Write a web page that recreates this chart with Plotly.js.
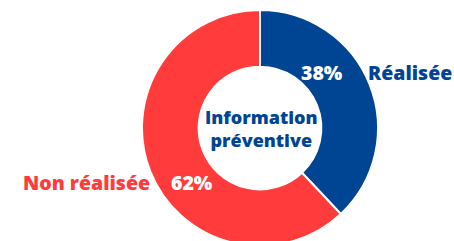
<!DOCTYPE html>
<html>
<head>
<meta charset="utf-8">
<script src="https://cdn.plot.ly/plotly-3.0.1.min.js"></script>
<style>
html,body{margin:0;padding:0;overflow:hidden;background:#fff;}
#chart{width:454px;height:250px;}
</style>
</head>
<body>
<div id="chart"></div>
<script>
const categories = ["Réalisée", "Non réalisée"];
const values = [38, 62];
const colors = ["#004494", "#FF3B3B"];
const centerTitle = "Information<br>préventive";

const W = 454, H = 250;
const cx = 260, cy = 128, R = 118;
const font = "Open Sans, Noto Sans, sans-serif";

const total = values.reduce((a, b) => a + b, 0);
const pct = values.map(v => Math.round(v / total * 100) + "%");

const data = [{
  type: "pie",
  labels: categories,
  values: values,
  hole: 0.52,
  sort: false,
  direction: "clockwise",
  rotation: 0,
  textinfo: "none",
  hoverinfo: "label+percent",
  marker: {colors: colors, line: {color: "#ffffff", width: 2}},
  domain: {x: [(cx - R) / W, (cx + R) / W], y: [(H - cy - R) / H, (H - cy + R) / H]},
  showlegend: false
}];

function px(x) { return x / W; }
function py(y) { return 1 - y / H; }

const lab = 19.5, ctr = 18;
const annotations = [
  {x: px(322), y: py(72), text: pct[0], font: {color: "#ffffff", size: lab, family: font, weight: 800}},
  {x: px(410), y: py(72), text: categories[0], font: {color: colors[0], size: lab, family: font, weight: 800}},
  {x: px(192), y: py(182), text: pct[1], font: {color: "#ffffff", size: lab, family: font, weight: 800}},
  {x: px(86), y: py(182), text: categories[1], font: {color: colors[1], size: lab, family: font, weight: 800}},
  {x: px(261), y: py(128), text: centerTitle, font: {color: colors[0], size: ctr, family: font, weight: 800}}
].map(a => Object.assign({xref: "paper", yref: "paper", showarrow: false, xanchor: "center", yanchor: "middle"}, a));

const layout = {
  width: W, height: H,
  margin: {l: 0, r: 0, t: 0, b: 0},
  paper_bgcolor: "#ffffff",
  plot_bgcolor: "#ffffff",
  annotations: annotations
};

Plotly.newPlot("chart", data, layout, {displayModeBar: false, staticPlot: true});
</script>
</body>
</html>
